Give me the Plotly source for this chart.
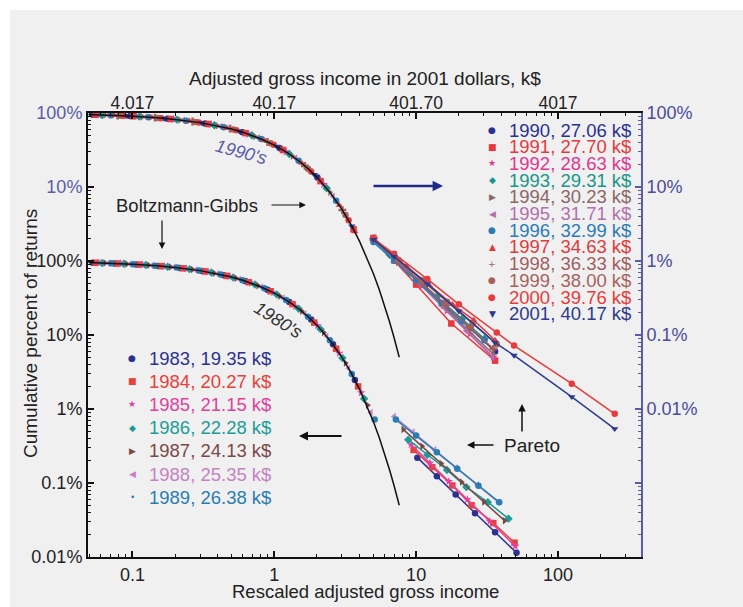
import plotly.graph_objects as go

# ---------------- data ----------------
years90 = [1990, 1991, 1992, 1993, 1994, 1995, 1996, 1997, 1998, 1999, 2000, 2001]
avg90 = ["27.06", "27.70", "28.63", "29.31", "30.23", "31.71", "32.99", "34.63", "36.33", "38.00", "39.76", "40.17"]
years80 = [1983, 1984, 1985, 1986, 1987, 1988, 1989]
avg80 = ["19.35", "20.27", "21.15", "22.28", "24.13", "25.35", "26.38"]

x_tick_vals = [0.1, 1, 10, 100]
x_tick_text = ["0.1", "1", "10", "100"]
x_top_vals = [4.017, 40.17, 401.7, 4017]
x_top_text = ["4.017", "40.17", "401.70", "4017"]
y_left_vals = [10000, 1000, 100, 10, 1, 0.1, 0.01]
y_left_text = ["100%", "10%", "100%", "10%", "1%", "0.1%", "0.01%"]
y_right_vals = [100, 10, 1, 0.1, 0.01, 0.001, 0.0001]
y_right_text = ["100%", "10%", "1%", "0.1%", "0.01%", "", ""]

# Boltzmann-Gibbs line (cumulative percent vs rescaled income)
bg_r = [0.049, 0.07, 0.1, 0.15, 0.2, 0.3, 0.4, 0.5, 0.6, 0.8, 1.0, 1.25, 1.5, 1.75,
        2.0, 2.5, 3.0, 3.5, 4.0, 4.5, 5.0, 5.5, 6.0, 6.5, 7.0, 7.6]
bg_c = [95.2, 93.2, 90.5, 86.1, 81.9, 74.1, 67.0, 60.7, 54.9, 44.9, 36.8, 28.7, 22.3, 17.4,
        13.5, 8.21, 4.98, 3.02, 1.83, 1.11, 0.674, 0.409, 0.248, 0.150, 0.0912, 0.050]

# 1990s, exponential part (rescaled income, cumulative %)
exp90_r = [
    [0.0525, 0.0964, 0.177, 0.325, 0.597, 1.096, 2.014],
    [0.0552, 0.1014, 0.1862, 0.342, 0.628, 1.153, 2.118, 3.62],
    [0.0581, 0.1067, 0.1959, 0.3598, 0.6607, 1.213, 2.228],
    [0.0611, 0.1122, 0.2061, 0.3784, 0.695, 1.276, 2.344],
    [0.0643, 0.1180, 0.2168, 0.3981, 0.7311, 1.343, 2.466],
    [0.0676, 0.1242, 0.2280, 0.4188, 0.7691, 1.413, 2.594],
    [0.0711, 0.1306, 0.2399, 0.4406, 0.8091, 1.486, 2.729],
    [0.0748, 0.1374, 0.2524, 0.4635, 0.8511, 1.563, 2.871, 3.70],
    [0.0787, 0.1445, 0.2655, 0.4875, 0.8954, 1.644, 3.020],
    [0.0828, 0.1521, 0.2793, 0.5129, 0.9419, 1.730, 3.177],
    [0.0871, 0.1600, 0.2938, 0.5395, 0.9908, 1.820, 3.342],
    [0.0916, 0.1683, 0.3090, 0.5675, 1.042, 1.914, 3.516],
]
exp90_c = [
    [94.9, 90.8, 83.8, 72.2, 55.0, 33.4, 13.4],
    [94.6, 90.4, 83.0, 71.0, 53.4, 31.6, 12.0, 2.68],
    [94.4, 89.9, 82.2, 69.8, 51.6, 29.7, 10.8],
    [94.1, 89.4, 81.4, 68.5, 49.9, 27.9, 9.59],
    [93.8, 88.9, 80.5, 67.2, 48.1, 26.1, 8.49],
    [93.5, 88.3, 79.6, 65.8, 46.3, 24.4, 7.47],
    [93.1, 87.8, 78.7, 64.4, 44.5, 22.6, 6.53],
    [92.8, 87.2, 77.7, 62.9, 42.7, 21.0, 5.67, 2.50],
    [92.4, 86.5, 76.8, 61.4, 40.8, 19.3, 4.88],
    [92.1, 85.9, 75.6, 59.9, 39.0, 17.7, 4.17],
    [91.7, 85.2, 74.5, 58.3, 37.1, 16.2, 3.54],
    [91.2, 84.5, 73.4, 56.7, 35.3, 14.7, 2.97],
]
# 1990s, Pareto part
par90_r = [
    [5.0, 7.5, 11, 16, 24, 36],
    [5.0, 7.0, 10, 17.7, 36],
    [5.1, 7.5, 11, 16.5, 24, 35],
    [5.0, 6.5, 9, 14, 21, 30.3],
    [5.0, 7.2, 10.5, 15.5, 23, 35],
    [5.0, 7.3, 10.5, 15, 22.5, 34.5],
    [5.0, 7.0, 10, 15.1, 21, 30.3],
    [5.0, 8.5, 12.4, 18, 25.4, 36],
    [5.0, 7.5, 11, 16, 24, 35],
    [5.0, 7.5, 11, 16.5, 25, 37],
    [5.0, 7.0, 12, 20, 37, 49, 125, 251],
    [5.0, 7.0, 12, 20, 36, 49, 125, 251],
]
par90_c = [
    [2.0, 0.97, 0.49, 0.25, 0.123, 0.060],
    [2.05, 1.02, 0.48, 0.143, 0.045],
    [2.0, 0.955, 0.458, 0.211, 0.103, 0.050],
    [1.9, 1.215, 0.70, 0.33, 0.165, 0.089],
    [2.0, 1.02, 0.508, 0.248, 0.119, 0.055],
    [2.1, 1.01, 0.50, 0.251, 0.114, 0.050],
    [1.8, 1.01, 0.546, 0.27, 0.153, 0.085],
    [2.0, 0.86, 0.47, 0.26, 0.16, 0.085],
    [2.0, 0.98, 0.50, 0.258, 0.126, 0.065],
    [2.0, 1.03, 0.548, 0.282, 0.143, 0.075],
    [2.0, 1.25, 0.57, 0.26, 0.108, 0.072, 0.022, 0.0086],
    [1.95, 1.15, 0.49, 0.21, 0.079, 0.053, 0.0146, 0.0054],
]

# 1980s, exponential part
exp80_r = [
    [0.0525, 0.0748, 0.1067, 0.1521, 0.2168, 0.3090, 0.4406, 0.6281, 0.8954, 1.276, 1.820, 2.594, 3.7],
    [0.0552, 0.0787, 0.1122, 0.1600, 0.2280, 0.3251, 0.4635, 0.6607, 0.9419, 1.343, 1.914, 2.729, 3.9],
    [0.0581, 0.0828, 0.1180, 0.1683, 0.2399, 0.3420, 0.4875, 0.6950, 0.9908, 1.413, 2.014, 2.871, 4.1],
    [0.0611, 0.0871, 0.1242, 0.1770, 0.2524, 0.3598, 0.5129, 0.7311, 1.042, 1.486, 2.118, 3.020, 4.3],
    [0.0643, 0.0916, 0.1306, 0.1862, 0.2655, 0.3784, 0.5395, 0.7691, 1.096, 1.563, 2.228, 3.177, 4.55],
    [0.0676, 0.0964, 0.1374, 0.1959, 0.2793, 0.3981, 0.5675, 0.8091, 1.153, 1.644, 2.344, 3.342, 4.8],
    [0.0711, 0.1014, 0.1445, 0.2061, 0.2938, 0.4188, 0.5970, 0.8511, 1.213, 1.730, 2.466, 3.516, 5.1],
]
exp80_c = [
    [94.9, 92.8, 89.9, 85.9, 80.5, 73.4, 64.4, 53.4, 40.8, 27.9, 16.2, 7.47, 2.47],
    [94.6, 92.4, 89.4, 85.2, 79.6, 72.2, 62.9, 51.6, 39.0, 26.1, 14.7, 6.53, 2.02],
    [94.4, 92.1, 88.9, 84.5, 78.7, 71.0, 61.4, 49.9, 37.1, 24.4, 13.4, 5.67, 1.66],
    [94.1, 91.7, 88.3, 83.8, 77.7, 69.8, 59.9, 48.1, 35.3, 22.6, 12.0, 4.88, 1.38],
    [93.8, 91.2, 87.8, 83.0, 76.8, 68.5, 58.3, 46.3, 33.4, 21.0, 10.8, 4.17, 1.12],
    [93.5, 90.8, 87.2, 82.2, 75.6, 67.2, 56.7, 44.5, 31.6, 19.3, 9.59, 3.54, 0.90],
    [93.1, 90.4, 86.5, 81.4, 74.5, 65.8, 55.0, 42.7, 29.7, 17.7, 8.49, 2.97, 0.72],
]
# 1980s, Pareto part
par80_r = [
    [10.2, 14, 19, 26, 36, 51],
    [9.6, 13, 18, 24.6, 35, 49.4],
    [9.2, 12.5, 17, 23, 33, 50],
    [8.8, 12, 16.5, 22.6, 32, 44.8],
    [8.1, 11, 15, 20.9, 30, 42],
    [7.0, 9.5, 13.5, 19.2, 27, 38],
    [7.2, 10, 14, 19.5, 27.5, 38.5],
]
par80_c = [
    [0.22, 0.123, 0.070, 0.039, 0.0216, 0.0114],
    [0.28, 0.164, 0.0926, 0.050, 0.0287, 0.0156],
    [0.33, 0.187, 0.105, 0.0597, 0.0304, 0.014],
    [0.385, 0.24, 0.15, 0.088, 0.055, 0.033],
    [0.53, 0.313, 0.183, 0.103, 0.0555, 0.031],
    [0.79, 0.489, 0.281, 0.161, 0.0944, 0.055],
    [0.72, 0.437, 0.260, 0.156, 0.0921, 0.055],
]

# ---------------- styles ----------------
colors90 = ["#2b3190", "#e8383d", "#e3358f", "#17968a", "#8a6868", "#b070ae",
            "#2b7cb6", "#e23a3c", "#a05e5e", "#a8625c", "#e83b3b", "#2d3a8e"]
symbols90 = ["circle", "square", "star", "diamond", "triangle-right", "triangle-left",
             "circle", "triangle-up", "cross", "circle", "circle", "triangle-down"]
glyph90 = ["●", "■", "★", "◆", "▶", "◀", "●", "▲", "+", "●", "●", "▼"]
colors80 = ["#2b3190", "#e8403b", "#e2409c", "#1c9c97", "#7b4848", "#c383c3", "#2a7db3"]
symbols80 = ["circle", "square", "star", "diamond", "triangle-right", "triangle-left", "circle"]
glyph80 = ["●", "■", "★", "◆", "▶", "◀", "•"]

AXBLUE = "#5a5ca6"
TXT = "#222222"
FONT = "Liberation Sans, Arial, sans-serif"
BG = "#f0f0f0"

W, H = 743, 607
PL, PR, PT, PB = 88, 641, 113, 557


def px(x):
    return (x - PL) / (PR - PL)


def py(y):
    return (PB - y) / (PB - PT)


fig = go.Figure()

# exponential-part markers
for k in range(len(years80)):
    fig.add_trace(go.Scatter(
        x=exp80_r[k], y=exp80_c[k], mode="markers", xaxis="x", yaxis="y",
        marker=dict(symbol=symbols80[k], size=6.5, color=colors80[k], line=dict(width=0)),
        cliponaxis=False, showlegend=False, hoverinfo="skip"))
for k in range(len(years90)):
    fig.add_trace(go.Scatter(
        x=exp90_r[k], y=exp90_c[k], mode="markers", xaxis="x", yaxis="y3",
        marker=dict(symbol=symbols90[k], size=6.5, color=colors90[k], line=dict(width=0)),
        cliponaxis=False, showlegend=False, hoverinfo="skip"))

# Boltzmann-Gibbs lines
fig.add_trace(go.Scatter(x=bg_r, y=bg_c, mode="lines", xaxis="x", yaxis="y",
                         line=dict(color="#111111", width=1.5), showlegend=False,
                         cliponaxis=False, hoverinfo="skip"))
fig.add_trace(go.Scatter(x=bg_r, y=bg_c, mode="lines", xaxis="x", yaxis="y3",
                         line=dict(color="#111111", width=1.5), showlegend=False,
                         cliponaxis=False, hoverinfo="skip"))

# Pareto parts
for k in range(len(years80)):
    fig.add_trace(go.Scatter(
        x=par80_r[k], y=par80_c[k], mode="lines+markers", xaxis="x", yaxis="y",
        line=dict(color=colors80[k], width=1.5),
        marker=dict(symbol=symbols80[k], size=6.5, color=colors80[k], line=dict(width=0)),
        cliponaxis=False, showlegend=False, hoverinfo="skip"))
for k in range(len(years90)):
    fig.add_trace(go.Scatter(
        x=par90_r[k], y=par90_c[k], mode="lines+markers", xaxis="x", yaxis="y3",
        line=dict(color=colors90[k], width=1.5),
        marker=dict(symbol=symbols90[k], size=6.5, color=colors90[k], line=dict(width=0)),
        cliponaxis=False, showlegend=False, hoverinfo="skip"))

# empty helper traces so the overlaying (label / minor-tick) axes are drawn
for xa, ya in [("x2", "y"), ("x3", "y"), ("x", "y4"), ("x", "y5")]:
    fig.add_trace(go.Scatter(x=[None], y=[None], mode="markers", xaxis=xa, yaxis=ya,
                             showlegend=False, hoverinfo="skip"))

# minor tick positions
minor_x = [m * 10 ** e for e in range(-2, 3) for m in range(2, 10)]
minor_y = [m * 10 ** e for e in range(-6, 5) for m in range(2, 10)]

xr = [-1.313, 2.585]
shift = 1.6039  # log10(40.17)

tickfont = dict(family=FONT, size=18, color=TXT)

fig.update_layout(
    width=W, height=H, autosize=False,
    margin=dict(l=PL, r=W - PR, t=PT, b=H - PB, pad=0),
    paper_bgcolor=BG, plot_bgcolor="rgba(0,0,0,0)",
    font=dict(family=FONT, color=TXT),
    showlegend=False,
    xaxis=dict(type="log", range=xr, tickvals=x_tick_vals, ticktext=x_tick_text,
               ticks="inside", ticklen=6, tickwidth=1.5, tickcolor="#111",
               showline=True, linecolor="#111", linewidth=2, mirror="ticks",
               showgrid=False, zeroline=False, tickfont=tickfont, ticklabelstandoff=0),
    xaxis2=dict(type="log", range=[xr[0] + shift, xr[1] + shift], overlaying="x", side="top",
                anchor="y", tickvals=x_top_vals, ticktext=x_top_text, ticks="",
                showline=False, showgrid=False, zeroline=False,
                tickfont=dict(family=FONT, size=17.5, color=TXT)),
    xaxis3=dict(type="log", range=xr, overlaying="x", anchor="y", side="bottom",
                tickvals=minor_x, ticks="inside", ticklen=3, tickwidth=1.2, tickcolor="#111",
                mirror="ticks", showticklabels=False, showline=False, showgrid=False,
                zeroline=False),
    yaxis=dict(type="log", range=[-2, 4], tickvals=y_left_vals,
               ticktext=[f"<span style='color:{AXBLUE}'>{t}</span>" if v > 100 else t
                         for v, t in zip(y_left_vals, y_left_text)],
               ticks="inside", ticklen=6, tickwidth=1.5, tickcolor="#111",
               showline=True, linecolor="#111", linewidth=2,
               showgrid=False, zeroline=False, tickfont=tickfont, anchor="x"),
    yaxis3=dict(type="log", range=[-4, 2], overlaying="y", side="right", anchor="x",
                tickvals=y_right_vals, ticktext=y_right_text,
                ticks="inside", ticklen=6, tickwidth=1.5, tickcolor=AXBLUE,
                showline=True, linecolor=AXBLUE, linewidth=1.8,
                showgrid=False, zeroline=False,
                tickfont=dict(family=FONT, size=18, color="#4a4c9c")),
    yaxis4=dict(type="log", range=[-2, 4], overlaying="y", side="left", anchor="x",
                tickvals=minor_y, ticks="inside", ticklen=3, tickwidth=1.2, tickcolor="#111",
                showticklabels=False, showline=False, showgrid=False, zeroline=False),
    yaxis5=dict(type="log", range=[-4, 2], overlaying="y", side="right", anchor="x",
                tickvals=minor_y, ticks="inside", ticklen=3, tickwidth=1.2, tickcolor=AXBLUE,
                showticklabels=False, showline=False, showgrid=False, zeroline=False),
)

# white border strips (top and left)
fig.add_shape(type="rect", xref="paper", yref="paper", x0=-0.3, x1=1.4,
              y0=py(10), y1=1.4, fillcolor="white", line=dict(width=0), layer="below")
fig.add_shape(type="rect", xref="paper", yref="paper", x0=-0.3, x1=px(10),
              y0=-0.3, y1=1.4, fillcolor="white", line=dict(width=0), layer="below")

ann = []


def text(xp, yp, s, size=18, color=TXT, angle=0, xanchor="center", italic=False, family=FONT):
    ann.append(dict(x=px(xp), y=py(yp), xref="paper", yref="paper", text=s,
                    showarrow=False, xanchor=xanchor, yanchor="middle", textangle=angle,
                    font=dict(family=family, size=size, color=color,
                              style="italic" if italic else "normal")))


def arrow(tx, ty, hx, hy, color="#111", width=1.3, size=1.0):
    ann.append(dict(x=px(hx), y=py(hy), xref="paper", yref="paper", text="",
                    showarrow=True, ax=tx - hx, ay=ty - hy, axref="pixel", ayref="pixel",
                    arrowhead=2, arrowsize=size, arrowwidth=width, arrowcolor=color))


# titles
text(365, 78, "Adjusted gross income in 2001 dollars, k$", size=19)
text(365, 591, "Rescaled adjusted gross income", size=18.5)
text(30, 334, "Cumulative percent of returns", size=19, angle=-90)

# labels
text(241, 152, "1990's", size=18, color=AXBLUE, angle=15, italic=True)
text(278, 320, "1980's", size=18, color="#333", angle=32, italic=True)
text(187, 205, "Boltzmann-Gibbs", size=18.5)
text(532, 445, "Pareto", size=19)

# arrows
arrow(270, 205, 306, 205, width=1.2, size=1.1)
arrow(162, 219, 162, 249, width=1.2, size=1.1)
arrow(372, 186, 443, 186, color="#1f2a8a", width=2.6, size=0.8)
arrow(343, 436, 299, 436, color="#111", width=2.0, size=0.9)
arrow(495, 445, 467, 445, width=1.5, size=1.0)
arrow(522, 433, 522, 404, width=1.5, size=1.0)

# legends (text)
for i, (yr, av) in enumerate(zip(years90, avg90)):
    yy = 130 + 16.7 * i
    text(492, yy, glyph90[i], size=9, color=colors90[i], family="DejaVu Sans")
    text(507, yy, f"{yr}, {av} k$", size=18.5, color=colors90[i], xanchor="left")
for i, (yr, av) in enumerate(zip(years80, avg80)):
    yy = 358 + 23.2 * i
    text(132, yy, glyph80[i], size=9, color=colors80[i], family="DejaVu Sans")
    text(147, yy, f"{yr}, {av} k$", size=18.5, color=colors80[i], xanchor="left")

fig.update_layout(annotations=ann)
fig.write_html("out.html", config={"displayModeBar": False},
               post_script="document.body.style.margin='0px';document.body.style.overflow='hidden';")
